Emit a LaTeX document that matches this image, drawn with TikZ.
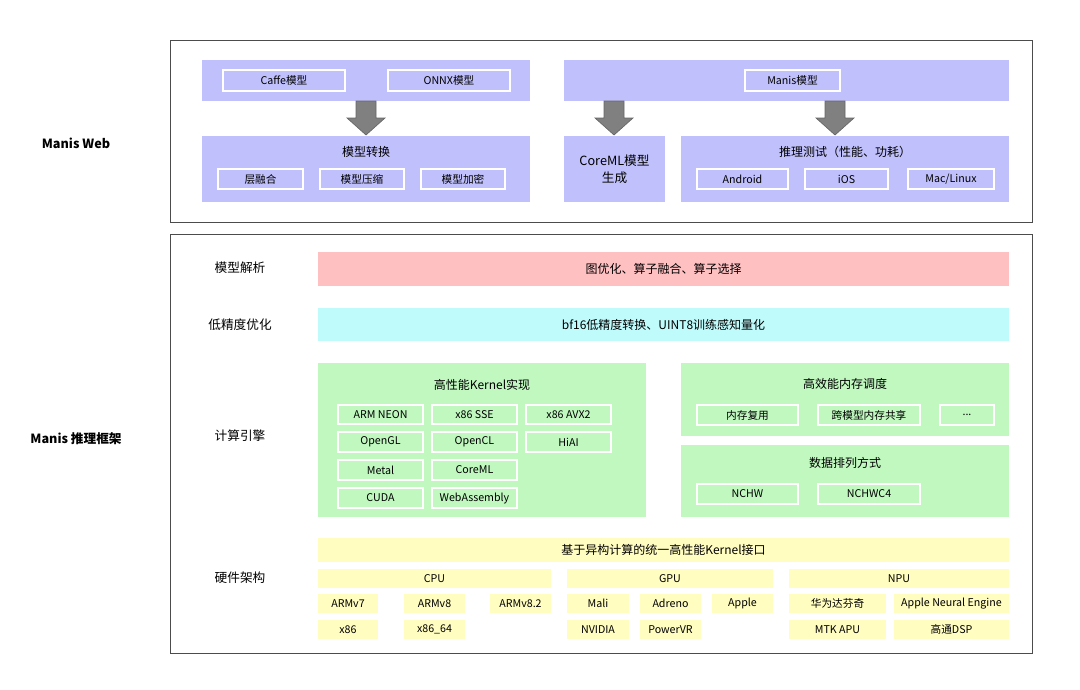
\documentclass[tikz,border=0pt]{standalone}
\usepackage{fontspec}
\setmainfont{Noto Sans CJK SC}
\usetikzlibrary{positioning}
\definecolor{webfill}{HTML}{C0C0FC}
\definecolor{pinkfill}{HTML}{FFC0C2}
\definecolor{cyanfill}{HTML}{C0FBFC}
\definecolor{greenfill}{HTML}{C0F8C0}
\definecolor{yellowfill}{HTML}{FFFDC0}
\definecolor{arrowgray}{HTML}{808080}

\begin{document}
\begin{tikzpicture}[x=0.75pt,y=-0.75pt,
  frame/.style={draw=black!70,line width=0.6pt},
  panel/.style={inner sep=0pt,font=\fontsize{9}{11}\selectfont,align=center},
  cell/.style={draw=white,line width=0.8pt,inner sep=0pt,font=\fontsize{8}{9}\selectfont},
  hw/.style={fill=yellowfill,inner sep=0pt,font=\fontsize{8}{9}\selectfont},
  side/.style={font=\fontsize{9.5}{11}\selectfont},
  bigarrow/.style={fill=arrowgray,draw=black!60,line width=0.5pt}]

% box: style, name, x1, y1, x2, y2, text
\newcommand*{\bx}[7]{\node[#1,minimum width={(#5-#3)*0.75pt},minimum height={(#6-#4)*0.75pt}]
  (#2) at ({(#3+#5)/2},{(#4+#6)/2}) {#7};}
% block arrow: x, top, bottom
\newcommand*{\flowarrow}[3]{\draw[bigarrow] (#1-10,#2)--(#1+10,#2)--(#1+10,#2+17)--(#1+19,#2+17)
  --(#1,#3)--(#1-19,#2+17)--(#1-10,#2+17)--cycle;}

\useasboundingbox (0,0) rectangle (1080,689);

%frames
\draw[frame] (170,40) rectangle (1032,222);
\draw[frame] (170,234) rectangle (1032,653);
\node[side,font=\bfseries\fontsize{9.5}{11}\selectfont] (web) at (76,143) {Manis Web};
\node[side,font=\bfseries\fontsize{9.5}{11}\selectfont] (infer) at (76,439) {Manis 推理框架};

%Manis Web
\bx{panel,fill=webfill}{src}{202}{60}{530}{101}{}
\bx{cell,fill=webfill}{caffe}{223}{70}{345}{91}{Caffe模型}
\bx{cell,fill=webfill}{onnx}{388}{70}{510}{91}{ONNX模型}
\bx{panel,fill=webfill}{conv}{202}{136}{530}{202}{}
\node[panel] (convt) at (366,152) {模型转换};
\bx{cell,fill=webfill}{fuse}{218}{169}{303}{189}{层融合}
\bx{cell,fill=webfill}{comp}{320}{169}{404}{189}{模型压缩}
\bx{cell,fill=webfill}{enc}{421}{169}{505}{189}{模型加密}

\bx{panel,fill=webfill}{msrc}{564}{60}{1009}{101}{}
\bx{cell,fill=webfill}{manis}{745}{70}{840}{91}{Manis模型}
\bx{panel,fill=webfill,font=\fontsize{9.5}{13}\selectfont}{coreml}{564}{136}{665}{202}{CoreML模型\\生成}
\bx{panel,fill=webfill}{test}{681}{136}{1009}{202}{}
\node[panel] (testt) at (845,152) {推理测试（性能、功耗）};
\bx{cell,fill=webfill}{android}{697}{169}{788}{189}{Android}
\bx{cell,fill=webfill}{ios}{805}{169}{888}{189}{iOS}
\bx{cell,fill=webfill}{mac}{908}{169}{994}{189}{Mac/Linux}

\flowarrow{366}{101}{135}
\flowarrow{614}{101}{135}
\flowarrow{835}{101}{135}

%推理框架
\node[side] (l1) at (240,268) {模型解析};
\node[side] (l2) at (240,325) {低精度优化};
\node[side] (l3) at (240,436) {计算引擎};
\node[side] (l4) at (240,578) {硬件架构};

\bx{panel,fill=pinkfill}{parse}{318}{252}{1009}{286}{图优化、算子融合、算子选择}
\bx{panel,fill=cyanfill}{quant}{318}{308}{1009}{341}{bf16低精度转换、UINT8训练感知量化}

\bx{panel,fill=greenfill}{kern}{318}{363}{646}{517}{}
\node[panel] (kernt) at (482,385) {高性能Kernel实现};
\bx{cell,fill=greenfill}{k1}{338}{405}{423}{424}{ARM NEON}
\bx{cell,fill=greenfill}{k2}{432}{405}{517}{424}{x86 SSE}
\bx{cell,fill=greenfill}{k3}{526}{405}{611}{424}{x86 AVX2}
\bx{cell,fill=greenfill}{k4}{338}{432}{423}{452}{OpenGL}
\bx{cell,fill=greenfill}{k5}{432}{432}{517}{452}{OpenCL}
\bx{cell,fill=greenfill}{k6}{526}{432}{611}{452}{HiAI}
\bx{cell,fill=greenfill}{k7}{338}{460}{423}{480}{Metal}
\bx{cell,fill=greenfill}{k8}{432}{460}{517}{480}{CoreML}
\bx{cell,fill=greenfill}{k9}{338}{488}{423}{508}{CUDA}
\bx{cell,fill=greenfill}{k10}{432}{488}{517}{508}{WebAssembly}

\bx{panel,fill=greenfill}{mem}{681}{363}{1009}{436}{}
\node[panel] (memt) at (845,384) {高效能内存调度};
\bx{cell,fill=greenfill}{m1}{697}{405}{798}{425}{内存复用}
\bx{cell,fill=greenfill}{m2}{818}{405}{920}{425}{跨模型内存共享}
\bx{cell,fill=greenfill}{m3}{940}{405}{994}{425}{...}
\bx{panel,fill=greenfill}{lay}{681}{445}{1009}{517}{}
\node[panel] (layt) at (845,463) {数据排列方式};
\bx{cell,fill=greenfill}{n1}{697}{484}{798}{504}{NCHW}
\bx{cell,fill=greenfill}{n2}{818}{484}{920}{504}{NCHWC4}

\bx{panel,fill=yellowfill}{api}{318}{538}{1009}{562}{基于异构计算的统一高性能Kernel接口}
\bx{hw}{cpu}{318}{569}{551}{588}{CPU}
\bx{hw}{gpu}{567}{569}{773}{588}{GPU}
\bx{hw}{npu}{789}{569}{1009}{588}{NPU}
\bx{hw}{h1}{318}{594}{378}{613}{ARMv7}
\bx{hw}{h2}{404}{594}{465}{613}{ARMv8}
\bx{hw}{h3}{490}{594}{551}{613}{ARMv8.2}
\bx{hw}{h4}{567}{594}{629}{613}{Mali}
\bx{hw}{h5}{640}{594}{701}{613}{Adreno}
\bx{hw}{h6}{712}{594}{773}{613}{Apple}
\bx{hw}{h7}{789}{594}{886}{613}{华为达芬奇}
\bx{hw}{h8}{894}{594}{1009}{613}{Apple Neural Engine}
\bx{hw}{h9}{318}{620}{378}{639}{x86}
\bx{hw}{h10}{404}{620}{465}{639}{x86\_64}
\bx{hw}{h11}{567}{620}{629}{639}{NVIDIA}
\bx{hw}{h12}{640}{620}{701}{639}{PowerVR}
\bx{hw}{h13}{789}{620}{886}{639}{MTK APU}
\bx{hw}{h14}{894}{620}{1009}{639}{高通DSP}

\end{tikzpicture}
\end{document}
